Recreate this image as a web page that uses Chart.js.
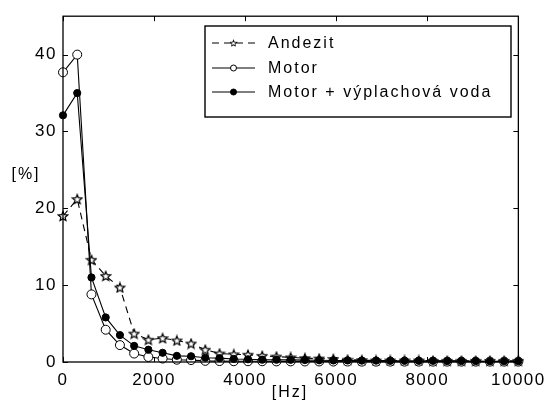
<!DOCTYPE html>
<html>
<head>
<meta charset="utf-8">
<script src="https://cdn.jsdelivr.net/npm/chart.js@4.4.1/dist/chart.umd.min.js"></script>
<style>
  body { margin: 0; background: #fff; }
  #wrap { width: 550px; height: 403px; }
</style>
</head>
<body>
<div id="wrap"><canvas id="chart" width="550" height="403"></canvas></div>
<script>
const freqs = [0, 312.5, 625, 937.5, 1250, 1562.5, 1875, 2187.5, 2500, 2812.5,
    3125, 3437.5, 3750, 4062.5, 4375, 4687.5, 5000, 5312.5, 5625, 5937.5,
    6250, 6562.5, 6875, 7187.5, 7500, 7812.5, 8125, 8437.5, 8750, 9062.5,
    9375, 9687.5, 10000];

const andezit = [19.0, 21.2, 13.3, 11.2, 9.7, 3.7, 2.9, 3.1, 2.8, 2.4,
    1.6, 1.1, 1.0, 0.95, 0.8, 0.7, 0.6, 0.5, 0.45, 0.4,
    0.3, 0.25, 0.2, 0.2, 0.2, 0.2, 0.15, 0.15, 0.15, 0.15,
    0.15, 0.15, 0.15];

const motor = [37.7, 40.0, 8.8, 4.2, 2.2, 1.1, 0.65, 0.45, 0.3, 0.25,
    0.15, 0.12, 0.1, 0.1, 0.1, 0.08, 0.08, 0.07, 0.07, 0.06,
    0.06, 0.05, 0.05, 0.05, 0.05, 0.05, 0.05, 0.05, 0.05, 0.05,
    0.05, 0.05, 0.05];

const voda = [32.1, 35.0, 11.0, 5.8, 3.5, 2.1, 1.6, 1.2, 0.8, 0.75,
    0.55, 0.5, 0.4, 0.35, 0.3, 0.3, 0.28, 0.25, 0.22, 0.2,
    0.2, 0.18, 0.18, 0.15, 0.15, 0.15, 0.15, 0.12, 0.12, 0.12,
    0.1, 0.1, 0.1];

const seriesNames = ['Andezit', 'Motor', 'Motor + výplachová voda'];
const xTicks = [0, 2000, 4000, 6000, 8000, 10000];
const yTicks = [0, 10, 20, 30, 40];

const FONT = '"Liberation Sans", Arial, sans-serif';

// open pentagram marker
function makeStar() {
    const c = document.createElement('canvas');
    c.width = 12; c.height = 12;
    const g = c.getContext('2d');
    g.beginPath();
    for (let i = 0; i < 10; i++) {
        const r = i % 2 === 0 ? 5 : 2.2;
        const a = -Math.PI / 2 + i * Math.PI / 5;
        const px = 6 + r * Math.cos(a), py = 6.5 + r * Math.sin(a);
        if (i === 0) g.moveTo(px, py); else g.lineTo(px, py);
    }
    g.closePath();
    g.fillStyle = '#fff';
    g.fill();
    g.strokeStyle = '#000';
    g.lineWidth = 1.2;
    g.stroke();
    return c;
}
const starImg = makeStar();

function pts(ys) {
    return freqs.map((x, i) => ({ x: x, y: ys[i] }));
}

// wider letter spacing for the tick text
const spacingPlugin = {
    id: 'spacing',
    beforeDraw(chart) { chart.ctx.letterSpacing = '1.5px'; },
    afterDraw(chart) { chart.ctx.letterSpacing = '0px'; }
};

// box + inward ticks + labels + legend
const boxPlugin = {
    id: 'box',
    afterDatasetsDraw(chart) {
        const { ctx, chartArea: a, scales } = chart;
        ctx.save();
        ctx.strokeStyle = '#000';
        ctx.lineWidth = 1.3;
        ctx.strokeRect(a.left, a.top, a.right - a.left, a.bottom - a.top);
        ctx.lineWidth = 1;
        ctx.beginPath();
        xTicks.forEach(v => {
            const px = Math.round(scales.x.getPixelForValue(v)) + 0.5;
            ctx.moveTo(px, a.bottom); ctx.lineTo(px, a.bottom - 5);
            ctx.moveTo(px, a.top); ctx.lineTo(px, a.top + 5);
        });
        yTicks.forEach(v => {
            const py = Math.round(scales.y.getPixelForValue(v)) + 0.5;
            ctx.moveTo(a.left, py); ctx.lineTo(a.left + 5, py);
            ctx.moveTo(a.right, py); ctx.lineTo(a.right - 5, py);
        });
        ctx.stroke();

        ctx.letterSpacing = '2px';
        ctx.fillStyle = '#000';
        ctx.font = '16px ' + FONT;
        ctx.textAlign = 'center';
        ctx.textBaseline = 'middle';
        ctx.fillText('[%]', 26, 175);
        ctx.fillText('[Hz]', 290, 393);

        const lx = 205, ly = 26, lw = 306, lh = 91;
        ctx.fillStyle = '#fff';
        ctx.fillRect(lx, ly, lw, lh);
        ctx.lineWidth = 1.4;
        ctx.strokeRect(lx, ly, lw, lh);
        const rows = [43, 68, 92];
        chart.data.datasets.forEach((ds, i) => {
            const y = rows[i];
            ctx.lineWidth = 1.2;
            ctx.strokeStyle = '#000';
            ctx.setLineDash(ds.borderDash || []);
            ctx.beginPath();
            ctx.moveTo(212, y); ctx.lineTo(255, y);
            ctx.stroke();
            ctx.setLineDash([]);
            ctx.lineWidth = 1;
            if (ds.pointStyle === 'circle') {
                ctx.beginPath();
                ctx.arc(233.5, y, 3, 0, Math.PI * 2);
                ctx.fillStyle = ds.pointBackgroundColor;
                ctx.fill();
                ctx.stroke();
            } else {
                ctx.drawImage(starImg, 233.5 - 4, y - 4, 8, 8);
            }
            ctx.fillStyle = '#000';
            ctx.textAlign = 'left';
            ctx.fillText(ds.label, 268, y + 1);
        });
        ctx.restore();
    }
};

new Chart(document.getElementById('chart'), {
    type: 'line',
    data: {
        datasets: [{
            label: seriesNames[0],
            data: pts(andezit),
            borderColor: '#000',
            borderWidth: 1.1,
            borderDash: [7, 5],
            pointStyle: starImg,
            pointRadius: 5,
            order: 3
        }, {
            label: seriesNames[1],
            data: pts(motor),
            borderColor: '#000',
            borderWidth: 1.1,
            pointStyle: 'circle',
            pointRadius: 4.5,
            pointBorderColor: '#000',
            pointBackgroundColor: '#fff',
            pointBorderWidth: 1,
            order: 2
        }, {
            label: seriesNames[2],
            data: pts(voda),
            borderColor: '#000',
            borderWidth: 1.1,
            pointStyle: 'circle',
            pointRadius: 3.6,
            pointBorderColor: '#000',
            pointBackgroundColor: '#000',
            pointBorderWidth: 1,
            order: 1
        }]
    },
    options: {
        responsive: false,
        animation: false,
        clip: false,
        layout: { padding: { top: 15, right: 29, left: 0, bottom: 0 } },
        plugins: {
            legend: { display: false },
            tooltip: { enabled: false }
        },
        scales: {
            x: {
                type: 'linear',
                min: 0,
                max: 10000,
                grid: { display: false, drawTicks: false },
                border: { display: false },
                afterBuildTicks: s => { s.ticks = xTicks.map(v => ({ value: v })); },
                afterFit: s => { s.height = 41; },
                ticks: {
                    padding: 8,
                    maxRotation: 0,
                    color: '#000',
                    font: { family: FONT, size: 17 },
                    callback: v => String(v)
                }
            },
            y: {
                min: 0,
                max: 45,
                grid: { display: false, drawTicks: false },
                border: { display: false },
                afterBuildTicks: s => { s.ticks = yTicks.map(v => ({ value: v })); },
                afterFit: s => { s.width = 63; },
                ticks: {
                    padding: 6,
                    color: '#000',
                    font: { family: FONT, size: 17 },
                    callback: v => String(v)
                }
            }
        }
    },
    plugins: [spacingPlugin, boxPlugin]
});
</script>
</body>
</html>
